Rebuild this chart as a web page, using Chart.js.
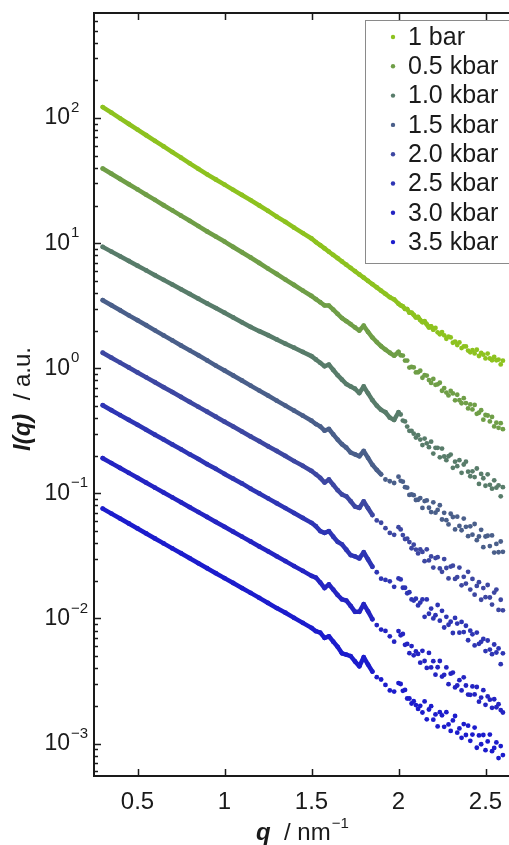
<!DOCTYPE html>
<html>
<head>
<meta charset="utf-8">
<script src="https://cdn.jsdelivr.net/npm/chart.js@4.4.0/dist/chart.umd.min.js"></script>
<style>
  html, body { margin: 0; padding: 0; background: #fff; overflow: hidden; }
  #wrap { width: 514px; height: 845px; }
</style>
</head>
<body>
<div id="wrap"><canvas id="chart" width="514" height="845"></canvas></div>
<script>
// scattering vector q (nm^-1)
const qValues = [
  0.30, 0.35, 0.40, 0.45, 0.50, 0.55, 0.60, 0.65, 0.70, 0.75, 0.80, 0.85, 0.90, 0.95, 1.00,
  1.05, 1.10, 1.15, 1.20, 1.25, 1.30, 1.35, 1.40, 1.45, 1.50,
  1.525, 1.55, 1.575, 1.6, 1.625, 1.65, 1.675, 1.7, 1.725, 1.75, 1.775, 1.8, 1.825, 1.85,
  1.875, 1.9, 1.925, 1.95, 1.975, 2.0,
  2.0125, 2.025, 2.0375, 2.05, 2.0625, 2.075, 2.0875, 2.1, 2.1125, 2.125, 2.1375, 2.15,
  2.1625, 2.175, 2.1875, 2.2, 2.2125, 2.225, 2.2375, 2.25, 2.2625, 2.275, 2.2875, 2.3,
  2.3125, 2.325, 2.3375, 2.35, 2.3625, 2.375, 2.3875, 2.4, 2.4125, 2.425, 2.4375, 2.45,
  2.4625, 2.475, 2.4875, 2.5, 2.5125, 2.525, 2.5375, 2.55, 2.5625, 2.575, 2.5875, 2.6
];

// intensities I(q), a.u.
const bar1 = [
  122.5, 110.4, 99.5, 89.7, 80.9, 72.9, 65.8, 59.3, 53.5, 48.2, 43.5, 39.2, 35.5, 32.3, 29.4,
  26.7, 24.3, 22.1, 20.0, 18.1, 16.3, 14.8, 13.3, 12.05, 10.9,
  10.2, 9.64, 9.08, 8.55, 8.05, 7.59, 7.14, 6.73, 6.34, 5.97, 5.62, 5.30, 4.99, 4.70,
  4.43, 4.17, 3.93, 3.70, 3.55, 3.28,
  3.184, 3.125, 2.979, 2.972, 2.780, 2.779, 2.673, 2.547, 2.571, 2.427, 2.334, 2.377,
  2.244, 2.119, 2.163, 2.033, 2.100, 1.937, 1.871, 1.946, 1.832, 1.722, 1.791, 1.763,
  1.600, 1.633, 1.535, 1.610, 1.449, 1.494, 1.496, 1.384, 1.340, 1.394, 1.313, 1.406,
  1.253, 1.327, 1.285, 1.199, 1.310, 1.197, 1.159, 1.231, 1.158, 1.173, 1.074, 1.150
];
const kbar05 = [
  39.5, 35.9, 32.6, 29.6, 26.9, 24.4, 22.2, 20.1, 18.3, 16.6, 15.1, 13.7, 12.4, 11.3, 10.3,
  9.32, 8.46, 7.68, 6.94, 6.27, 5.67, 5.12, 4.63, 4.18, 3.78,
  3.57, 3.37, 3.18, 3.17, 2.94, 2.72, 2.52, 2.38, 2.25, 2.12, 2.00, 2.19, 1.95, 1.76,
  1.62, 1.50, 1.41, 1.33, 1.26, 1.35,
  1.271, 1.262, 1.152, 1.152, 1.012, 1.024, 1.016, 0.927, 0.929, 0.955, 0.840, 0.881,
  0.874, 0.805, 0.763, 0.822, 0.737, 0.744, 0.766, 0.661, 0.694, 0.639, 0.606, 0.659,
  0.629, 0.554, 0.614, 0.555, 0.525, 0.577, 0.527, 0.477, 0.514, 0.469, 0.509, 0.432,
  0.441, 0.462, 0.388, 0.423, 0.419, 0.376, 0.408, 0.343, 0.367, 0.334, 0.364, 0.326
];
const kbar10 = [
  9.34, 8.56, 7.85, 7.20, 6.61, 6.06, 5.55, 5.09, 4.67, 4.28, 3.93, 3.60, 3.30, 3.03, 2.78,
  2.55, 2.33, 2.14, 1.98, 1.84, 1.70, 1.57, 1.46, 1.35, 1.25,
  1.175, 1.105, 1.038, 1.070, 0.969, 0.881, 0.811, 0.748, 0.716, 0.686, 0.633, 0.715, 0.630, 0.556,
  0.503, 0.465, 0.445, 0.403, 0.386, 0.445,
  0.427, 0.382, 0.376, 0.342, 0.316, 0.316, 0.300, 0.279, 0.292, 0.269, 0.243, 0.274,
  0.251, 0.234, 0.259, 0.208, 0.231, 0.231, 0.194, 0.228, 0.197, 0.184, 0.198, 0.204,
  0.160, 0.179, 0.165, 0.184, 0.146, 0.170, 0.179, 0.149, 0.137, 0.150, 0.135, 0.158,
  0.119, 0.143, 0.132, 0.115, 0.142, 0.117, 0.109, 0.127, 0.111, 0.116, 0.0946, 0.112
];
const kbar15 = [
  3.50, 3.19, 2.91, 2.65, 2.42, 2.21, 2.01, 1.83, 1.67, 1.52, 1.39, 1.27, 1.155, 1.05, 0.960,
  0.875, 0.798, 0.727, 0.663, 0.605, 0.551, 0.503, 0.458, 0.418, 0.381,
  0.358, 0.343, 0.317, 0.327, 0.296, 0.269, 0.247, 0.232, 0.212, 0.205, 0.198, 0.218, 0.192, 0.169,
  0.154, 0.142, 0.129, 0.125, 0.121, 0.136,
  0.126, 0.124, 0.112, 0.111, 0.0972, 0.0981, 0.0967, 0.0885, 0.0889, 0.0917, 0.0765, 0.0867,
  0.0878, 0.0767, 0.0709, 0.0848, 0.0701, 0.0737, 0.0803, 0.0618, 0.0699, 0.0610, 0.0564, 0.0687,
  0.0647, 0.0515, 0.0651, 0.0549, 0.0507, 0.0629, 0.0540, 0.0455, 0.0545, 0.0467, 0.0569, 0.0422,
  0.0452, 0.0511, 0.0371, 0.0452, 0.0458, 0.0379, 0.0461, 0.0336, 0.0394, 0.0338, 0.0412, 0.0341
];
const kbar20 = [
  1.33, 1.215, 1.110, 1.014, 0.926, 0.846, 0.773, 0.706, 0.645, 0.589, 0.538, 0.491, 0.449, 0.410, 0.374,
  0.342, 0.312, 0.285, 0.261, 0.238, 0.218, 0.199, 0.181, 0.166, 0.151,
  0.142, 0.133, 0.122, 0.129, 0.117, 0.106, 0.0979, 0.0946, 0.0865, 0.0784, 0.0764, 0.0863, 0.0761, 0.0671,
  0.0608, 0.0582, 0.0527, 0.0483, 0.0466, 0.0537,
  0.0515, 0.0464, 0.0431, 0.0435, 0.0408, 0.0364, 0.0389, 0.0355, 0.0331, 0.0356, 0.0340, 0.0287,
  0.0357, 0.0291, 0.0313, 0.0255, 0.0304, 0.0309, 0.0251, 0.0236, 0.0298, 0.0253, 0.0209, 0.0260,
  0.0264, 0.0207, 0.0214, 0.0255, 0.0184, 0.0215, 0.0190, 0.0236, 0.0170, 0.0207, 0.0155, 0.0182,
  0.0195, 0.0141, 0.0175, 0.0148, 0.0185, 0.0147, 0.0129, 0.0161, 0.0170, 0.0117, 0.0141, 0.0116
];
const kbar25 = [
  0.506, 0.462, 0.422, 0.386, 0.353, 0.322, 0.294, 0.269, 0.246, 0.225, 0.205, 0.188, 0.171, 0.157, 0.143,
  0.131, 0.120, 0.109, 0.0998, 0.0912, 0.0833, 0.0762, 0.0696, 0.0636, 0.0581,
  0.0546, 0.0499, 0.0483, 0.0498, 0.0450, 0.0410, 0.0391, 0.0354, 0.0321, 0.0313, 0.0302, 0.0338, 0.0296, 0.0259,
  0.0234, 0.0208, 0.0203, 0.0198, 0.0179, 0.0209,
  0.0205, 0.0176, 0.0176, 0.0159, 0.0162, 0.0142, 0.0139, 0.0144, 0.0127, 0.0134, 0.0142, 0.0103,
  0.0142, 0.0109, 0.0120, 0.0100, 0.0106, 0.0128, 0.00959, 0.0115, 0.00846, 0.0103, 0.00890, 0.00941,
  0.00765, 0.0101, 0.00910, 0.00770, 0.00938, 0.00778, 0.00874, 0.00669, 0.00798, 0.00747, 0.00608, 0.00771,
  0.00627, 0.00650, 0.00686, 0.00548, 0.00666, 0.00564, 0.00518, 0.00619, 0.00534, 0.00576, 0.00431, 0.00526
];
const kbar30 = [
  0.191, 0.1745, 0.1594, 0.1457, 0.1331, 0.1216, 0.1111, 0.1015, 0.0928, 0.0848, 0.0775, 0.0708, 0.0647, 0.0591, 0.0540,
  0.0493, 0.0451, 0.0412, 0.0376, 0.0344, 0.0314, 0.0287, 0.0262, 0.0240, 0.0219,
  0.0212, 0.0194, 0.0175, 0.0187, 0.0170, 0.0154, 0.0142, 0.0139, 0.0126, 0.0113, 0.0113, 0.0130, 0.0114, 0.00985,
  0.00885, 0.00814, 0.00794, 0.00719, 0.00652, 0.00792,
  0.00734, 0.00751, 0.00615, 0.00625, 0.00528, 0.00601, 0.00507, 0.00545, 0.00520, 0.00443, 0.00551, 0.00457,
  0.00402, 0.00530, 0.00406, 0.00455, 0.00355, 0.00407, 0.00457, 0.00343, 0.00354, 0.00406, 0.00298, 0.00362,
  0.00369, 0.00281, 0.00291, 0.00321, 0.00266, 0.00338, 0.00291, 0.00246, 0.00245, 0.00286, 0.00247, 0.00283,
  0.00216, 0.00233, 0.00267, 0.00204, 0.00238, 0.00224, 0.00193, 0.00226, 0.00195, 0.00206, 0.00185, 0.00177
];
const kbar35 = [
  0.0755, 0.0689, 0.0629, 0.0574, 0.0524, 0.0478, 0.0436, 0.0398, 0.0363, 0.0332, 0.0303, 0.0276, 0.0252, 0.0230, 0.0210,
  0.0192, 0.0175, 0.0160, 0.0146, 0.0133, 0.0121, 0.0111, 0.0101, 0.00922, 0.00841,
  0.00791, 0.00771, 0.00699, 0.00720, 0.00652, 0.00593, 0.00526, 0.00513, 0.00500, 0.00453, 0.00414, 0.00490, 0.00428, 0.00376,
  0.00339, 0.00325, 0.00294, 0.00266, 0.00260, 0.00304,
  0.00299, 0.00264, 0.00268, 0.00229, 0.00229, 0.00209, 0.00218, 0.00203, 0.00189, 0.00200, 0.00177, 0.00217,
  0.00156, 0.00187, 0.00199, 0.00155, 0.00171, 0.00137, 0.00178, 0.00168, 0.00136, 0.00178, 0.00142, 0.00126,
  0.00153, 0.00166, 0.00122, 0.00132, 0.00111, 0.00143, 0.00117, 0.00139, 0.00105, 0.00118, 0.00134, 0.000925,
  0.00116, 0.000987, 0.00117, 0.000885, 0.00104, 0.00118, 0.000868, 0.000921, 0.00102, 0.000765, 0.000954, 0.000809
];

const seriesLabels = ["1 bar", "0.5 kbar", "1.0 kbar", "1.5 kbar", "2.0 kbar", "2.5 kbar", "3.0 kbar", "3.5 kbar"];
const seriesValues = [bar1, kbar05, kbar10, kbar15, kbar20, kbar25, kbar30, kbar35];

const xTickValues = [0.5, 1, 1.5, 2, 2.5];
const xTickLabels = ["0.5", "1", "1.5", "2", "2.5"];
const yTickExponents = [2, 1, 0, -1, -2, -3];
const yTickLabels = ["2", "1", "0", "\u22121", "\u22122", "\u22123"];

// styles
const seriesColors = ["#8dc21f", "#6f9e47", "#587c6a", "#4a5f8a", "#3d47a2", "#2e35b4", "#2424c2", "#1c1ccc"];
const lineEnds = [2.2, 2.0, 2.0, 1.9, 1.85, 1.85, 1.85, 1.85];
const FONT = '"Liberation Sans", Arial, sans-serif';
const INK = "#1a1a1a";

const datasets = seriesValues.map((vals, i) => ({
  label: seriesLabels[i],
  data: vals.map((v, j) => ({ x: qValues[j], y: v })),
  showLine: true,
  borderColor: seriesColors[i],
  backgroundColor: seriesColors[i],
  borderWidth: 4.5,
  borderJoinStyle: "round",
  borderCapStyle: "round",
  pointRadius: 2.4,
  pointBorderWidth: 0,
  pointHoverRadius: 0,
  segment: {
    borderColor: (ctx) => (ctx.p1.parsed.x > lineEnds[i] ? "transparent" : undefined),
  },
}));

// frame, inward ticks, tick labels, axis titles and legend box
const decorations = {
  id: "decorations",
  afterDraw(chart) {
    const { ctx, chartArea: area, scales } = chart;
    const xs = scales.x;
    const ys = scales.y;
    ctx.save();
    ctx.strokeStyle = INK;
    ctx.fillStyle = INK;

    // top frame line
    ctx.lineWidth = 2;
    ctx.beginPath();
    ctx.moveTo(area.left - 1, area.top);
    ctx.lineTo(area.right + 1, area.top);
    ctx.stroke();

    // y ticks (log, major + minor)
    ctx.lineWidth = 1.5;
    for (let e = -4; e <= 3; e++) {
      for (let k = 1; k <= 9; k++) {
        const v = k * Math.pow(10, e);
        if (v < ys.min || v > ys.max) continue;
        const py = Math.round(ys.getPixelForValue(v)) + 0.5;
        const len = k === 1 ? 7 : 4;
        ctx.beginPath();
        ctx.moveTo(area.left, py);
        ctx.lineTo(area.left + len, py);
        ctx.stroke();
      }
    }

    // x ticks, bottom and top
    xTickValues.forEach((v) => {
      const px = Math.round(xs.getPixelForValue(v)) + 0.5;
      ctx.beginPath();
      ctx.moveTo(px, area.bottom);
      ctx.lineTo(px, area.bottom - 7);
      ctx.moveTo(px, area.top);
      ctx.lineTo(px, area.top + 7);
      ctx.stroke();
    });

    // x tick labels
    ctx.font = "24px " + FONT;
    ctx.textAlign = "center";
    ctx.textBaseline = "middle";
    xTickValues.forEach((v, i) => {
      ctx.fillText(xTickLabels[i], xs.getPixelForValue(v), area.bottom + 26);
    });

    // y tick labels 10^n
    yTickExponents.forEach((e, i) => {
      const py = ys.getPixelForValue(Math.pow(10, e));
      ctx.font = "23px " + FONT;
      ctx.textAlign = "right";
      ctx.textBaseline = "middle";
      ctx.fillText("10", 70, py);
      ctx.font = "15px " + FONT;
      ctx.textAlign = "left";
      ctx.fillText(yTickLabels[i], 71, py - 10);
    });

    // x title: q / nm^-1
    const bi = "italic bold 24px " + FONT;
    const rg = "24px " + FONT;
    ctx.textAlign = "left";
    ctx.textBaseline = "alphabetic";
    let tx = 256;
    const ty = 840;
    ctx.font = bi;
    ctx.fillText("q", tx, ty);
    tx += ctx.measureText("q").width;
    ctx.font = rg;
    ctx.fillText("  / nm", tx, ty);
    tx += ctx.measureText("  / nm").width + 1;
    ctx.font = "15px " + FONT;
    ctx.fillText("\u22121", tx, ty - 12);

    // y title: I(q) / a.u.
    ctx.save();
    ctx.translate(30, 399);
    ctx.rotate(-Math.PI / 2);
    ctx.font = bi;
    const w1 = ctx.measureText("I(q)").width;
    ctx.font = rg;
    const w2 = ctx.measureText("  / a.u.").width;
    const sx = -(w1 + w2) / 2;
    ctx.font = bi;
    ctx.fillText("I(q)", sx, 0);
    ctx.font = rg;
    ctx.fillText("  / a.u.", sx + w1, 0);
    ctx.restore();

    // legend box
    const lx = 365, ly = 20, lw = 170, lh = 243;
    ctx.fillStyle = "#ffffff";
    ctx.fillRect(lx, ly, lw, lh);
    ctx.strokeStyle = "#8a8a8a";
    ctx.lineWidth = 1;
    ctx.strokeRect(lx + 0.5, ly + 0.5, lw, lh);
    ctx.font = "25px " + FONT;
    ctx.textAlign = "left";
    ctx.textBaseline = "middle";
    chart.data.datasets.forEach((ds, i) => {
      const cy = 37 + i * 29.3;
      ctx.fillStyle = ds.backgroundColor;
      ctx.beginPath();
      ctx.arc(393, cy, 2.2, 0, Math.PI * 2);
      ctx.fill();
      ctx.fillStyle = INK;
      ctx.fillText(ds.label, 408, cy + 1);
    });

    ctx.restore();
  },
};

new Chart(document.getElementById("chart"), {
  type: "scatter",
  data: { datasets },
  options: {
    responsive: false,
    animation: false,
    events: [],
    layout: { padding: { top: 13, right: 2, left: 0, bottom: 0 } },
    plugins: { legend: { display: false }, tooltip: { enabled: false } },
    scales: {
      x: {
        type: "linear",
        min: 0.25,
        max: 2.65,
        grid: { display: false, drawTicks: false },
        border: { display: true, color: INK, width: 2 },
        ticks: { display: false },
        afterFit: (s) => { s.height = 69; },
      },
      y: {
        type: "logarithmic",
        min: 5.5e-4,
        max: 692,
        grid: { display: false, drawTicks: false },
        border: { display: true, color: INK, width: 2 },
        ticks: { display: false },
        afterFit: (s) => { s.width = 94; },
      },
    },
  },
  plugins: [decorations],
});
</script>
</body>
</html>
